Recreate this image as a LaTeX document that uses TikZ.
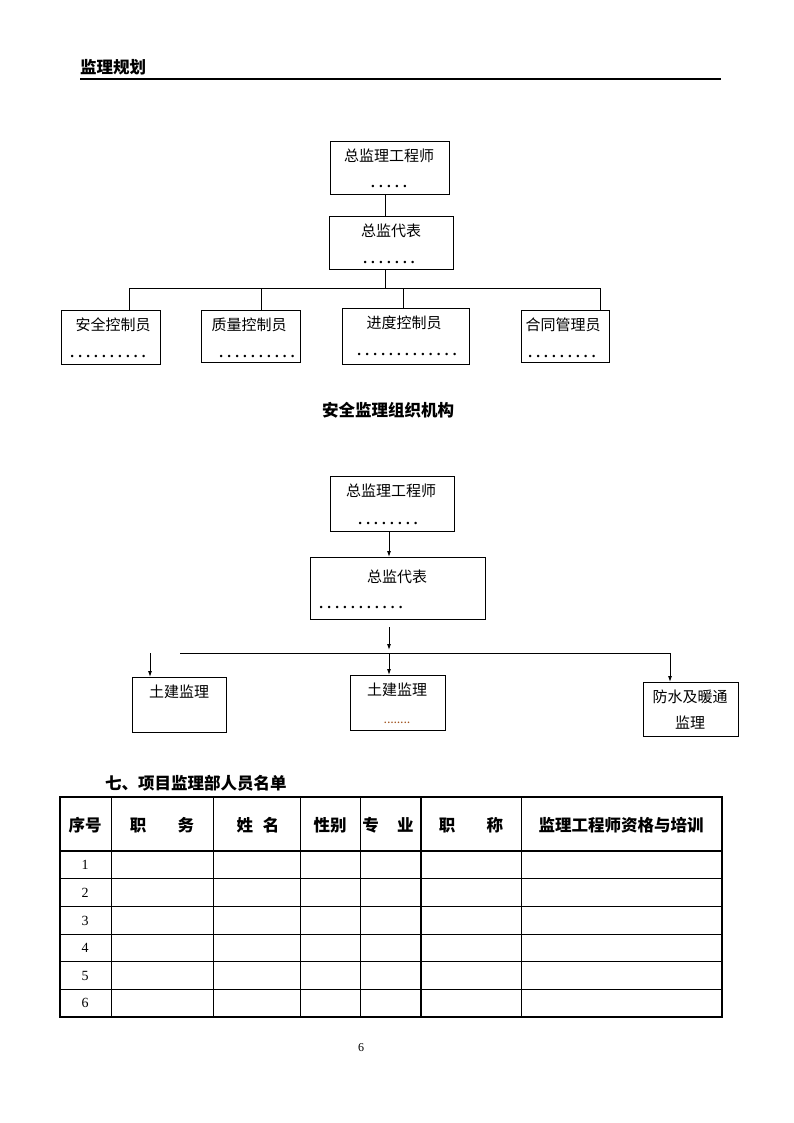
\documentclass[tikz,border=0pt]{standalone}
\usepackage{fontspec}
\setmainfont{Liberation Serif}
\newfontfamily\cjk{Noto Sans CJK SC}
\usetikzlibrary{arrows.meta}
\newcommand\dotrow[1]{\foreach \i in {1,...,#1}{\kern2.1pt.\kern2.1pt}}
\newcommand\smalldots[1]{\foreach \i in {1,...,#1}{\kern0.4pt.\kern0.4pt}}
\begin{document}
\begin{tikzpicture}[x=1pt,y=-1pt,
  box/.style={draw,line width=0.9pt,inner sep=0,anchor=north west},
  lbl/.style={font=\cjk\fontsize{15}{15}\selectfont,inner sep=0},
  dts/.style={font=\bfseries\fontsize{15}{15}\selectfont,inner sep=0},
  hd/.style={font=\cjk\bfseries\fontsize{16.5}{16.5}\selectfont,inner sep=0},
  num/.style={font=\fontsize{14}{14}\selectfont,inner sep=0},
  conn/.style={line width=0.9pt},
  arr/.style={line width=0.9pt,-{Latex[length=6pt,width=4pt]}},
  grid/.style={line width=1.1pt}]
\useasboundingbox (0,0) rectangle (794,1123);

% header
\node[hd,anchor=west] (title) at (80,67) {监理规划};
\coordinate (hl) at (80,79);
\coordinate (hr) at (721,79);
\draw[line width=1.3pt] (hl) -- (hr);

% ---------- first chart ----------
\node[box,minimum width=119pt,minimum height=53pt] (b1) at (330,141) {};
\node[lbl] (b1t) at (389,156) {总监理工程师};
\node[dts] (b1d) at (389,186) {\dotrow{5}};

\node[box,minimum width=124pt,minimum height=53pt] (b2) at (329,216) {};
\node[lbl] (b2t) at (391,231) {总监代表};
\node[dts] (b2d) at (389,262) {\dotrow{7}};

\node[box,minimum width=99pt,minimum height=54pt] (c1) at (61,310) {};
\node[lbl] (c1t) at (113,325) {安全控制员};
\node[dts] (c1d) at (108,356) {\dotrow{10}};

\node[box,minimum width=99pt,minimum height=52pt] (c2) at (201,310) {};
\node[lbl] (c2t) at (249,325) {质量控制员};
\node[dts] (c2d) at (257,356) {\dotrow{10}};

\node[box,minimum width=127pt,minimum height=56pt] (c3) at (342,308) {};
\node[lbl] (c3t) at (404,323) {进度控制员};
\node[dts] (c3d) at (407,354) {\dotrow{13}};

\node[box,minimum width=88pt,minimum height=52pt] (c4) at (521,310) {};
\node[lbl] (c4t) at (563,325) {合同管理员};
\node[dts] (c4d) at (562,356) {\dotrow{9}};

\draw[conn] (b1.south -| 385,0) -- (b2.north -| 385,0);
\coordinate (bus) at (385,288);
\draw[conn] (b2.south -| 385,0) -- (bus);
\draw[conn] (129,288) -- (600,288);
\draw[conn] (129,288) -- (c1.north -| 129,0);
\draw[conn] (261,288) -- (c2.north -| 261,0);
\draw[conn] (403,288) -- (c3.north -| 403,0);
\draw[conn] (600,288) -- (c4.north -| 600,0);

\node[hd] (t2) at (388,410) {安全监理组织机构};

% ---------- second chart ----------
\node[box,minimum width=124pt,minimum height=55pt] (a1) at (330,476) {};
\node[lbl] (a1t) at (391,491) {总监理工程师};
\node[dts] (a1d) at (388,523) {\dotrow{8}};

\node[box,minimum width=175pt,minimum height=62pt] (a2) at (310,557) {};
\node[lbl] (a2t) at (397,577) {总监代表};
\node[dts] (a2d) at (361,607) {\dotrow{11}};

\node[box,minimum width=94pt,minimum height=55pt] (d1) at (132,677) {};
\node[lbl] (d1t) at (179,692) {土建监理};

\node[box,minimum width=95pt,minimum height=55pt] (d2) at (350,675) {};
\node[lbl] (d2t) at (397,690) {土建监理};
\node[font=\bfseries\fontsize{10}{10}\selectfont,inner sep=0,text={rgb,255:red,160;green,82;blue,30}] (d2d) at (397,723) {\smalldots{8}};

\node[box,minimum width=95pt,minimum height=54pt] (d3) at (643,682) {};
\node[lbl] (d3t) at (690,697) {防水及暖通};
\node[lbl] (d3u) at (690,723) {监理};

\draw[arr] (a1.south -| 389,0) -- (a2.north -| 389,0);
\coordinate (s1) at (389,627);
\coordinate (s2) at (389,650);
\draw[arr] (s1) -- (s2);
\coordinate (hL) at (180,653);
\coordinate (hR) at (670,653);
\draw[conn] (hL) -- (hR);
\coordinate (m1) at (389,653);
\draw[arr] (m1) -- (d2.north -| 389,0);
\draw[arr] (hR) -- (d3.north -| 670,0);
\coordinate (l1) at (150,653);
\draw[arr] (l1) -- (d1.north -| 150,0);

% ---------- table ----------
\node[hd,anchor=west] (t3) at (105,783) {七、项目监理部人员名单};
\draw[grid] (60,797) rectangle (722,1017);
\foreach \yy in {851,878.1,906.2,934.3,961.4,989.5} \draw[grid] (60,\yy) -- (722,\yy);
\foreach \xx in {111.5,213.5,300.5,360.5,421,521.5} \draw[grid] (\xx,797) -- (\xx,1017);

\node[hd] (h1) at (85,825) {序号};
\node[hd] (h2) at (162,825) {职\hspace{1.9em}务};
\node[hd] (h3) at (258,825) {姓\hspace{0.6em}名};
\node[hd] (h4) at (330,825) {性别};
\node[hd] (h5) at (388,825) {专\hspace{1.1em}业};
\node[hd] (h6) at (471,825) {职\hspace{1.9em}称};
\node[hd] (h7) at (621,825) {监理工程师资格与培训};

\foreach \n/\yy in {1/865,2/892.5,3/920.5,4/948,5/975.5,6/1003}
  \node[num] (r\n) at (85,\yy) {\n};

\node[font=\fontsize{12}{12}\selectfont,inner sep=0] (pg) at (361,1048) {6};
\end{tikzpicture}
\end{document}
